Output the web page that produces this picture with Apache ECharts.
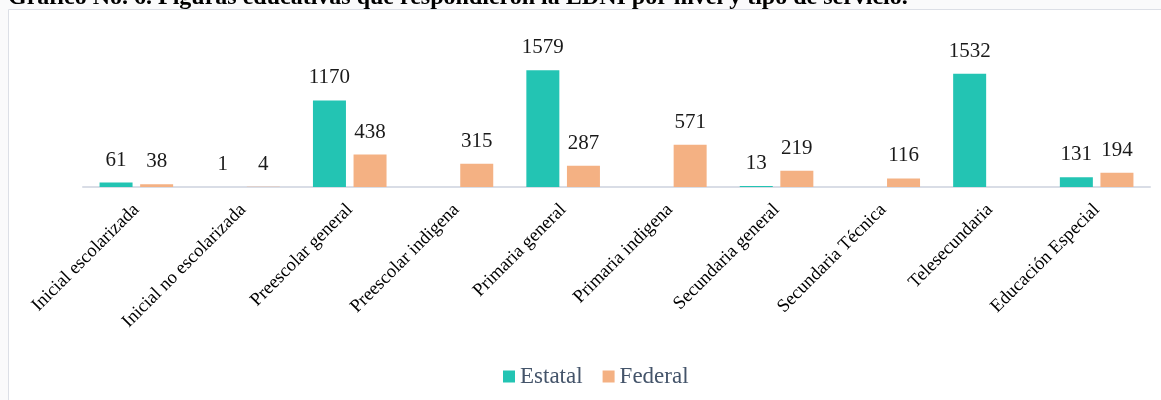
<!DOCTYPE html>
<html>
<head>
<meta charset="utf-8">
<script src="https://cdn.jsdelivr.net/npm/echarts@6/dist/echarts.min.js"></script>
<style>
  html, body { margin: 0; padding: 0; background: #fff; }
  #chart { width: 1161px; height: 400px; }
</style>
</head>
<body>
<div id="chart"></div>
<script>
// niveles / tipos de servicio
var categorias = ['Inicial escolarizada', 'Inicial no escolarizada', 'Preescolar general', 'Preescolar indigena',
  'Primaria general', 'Primaria indigena', 'Secundaria general', 'Secundaria Técnica', 'Telesecundaria', 'Educación Especial']
// null = sin barra
var estatal = [61, 1, 1170, null, 1579, null, 13, null, 1532, 131]
var federal = [38, 4, 438, 315, 287, 571, 219, 116, null, 194]

var titulo = 'Gráfico No. 6. Figuras educativas que respondieron la EDNI por nivel y tipo de servicio.'
var serif = '"Liberation Serif", "Times New Roman", serif'

var myChart = echarts.init(document.getElementById('chart'))

var etiqueta = {
  show: true,
  position: 'top',
  distance: 12,
  color: '#1a1a1a',
  fontFamily: serif,
  fontSize: 21
}

var option = {
  backgroundColor: '#fafafb',
  animation: false,
  title: {
    text: titulo,
    left: 3,
    top: -19,
    textStyle: { fontFamily: serif, fontSize: 24, fontWeight: 'bold', color: '#000' }
  },
  graphic: [
    {
      type: 'rect',
      z: -10,
      shape: { x: 8.5, y: 9.5, width: 1200, height: 500 },
      style: { fill: '#fff', stroke: '#dcdfe6', lineWidth: 1 }
    }
  ],
  legend: {
    left: 498,
    top: 360,
    itemWidth: 12,
    itemHeight: 12,
    itemGap: 20,
    icon: 'rect',
    textStyle: { fontFamily: serif, fontSize: 23, color: '#44546a' },
    data: ['Estatal', 'Federal']
  },
  grid: { left: 83, right: 11, top: 39, height: 148 },
  xAxis: {
    type: 'category',
    data: categorias,
    axisLine: { lineStyle: { color: '#d9dde6', width: 2 } },
    axisTick: { show: false },
    axisLabel: {
      interval: 0,
      rotate: 45,
      margin: 20,
      color: '#000',
      fontFamily: serif,
      fontSize: 18.5
    }
  },
  yAxis: {
    type: 'value',
    min: 0,
    max: 2000,
    show: false,
    splitLine: { show: false }
  },
  series: [
    {
      name: 'Estatal',
      type: 'bar',
      data: estatal,
      barWidth: 33,
      barGap: '23%',
      itemStyle: { color: '#23c4b3' },
      label: etiqueta
    },
    {
      name: 'Federal',
      type: 'bar',
      data: federal,
      barWidth: 33,
      itemStyle: { color: '#f4b183' },
      label: etiqueta
    }
  ]
}

myChart.setOption(option)
</script>
</body>
</html>
